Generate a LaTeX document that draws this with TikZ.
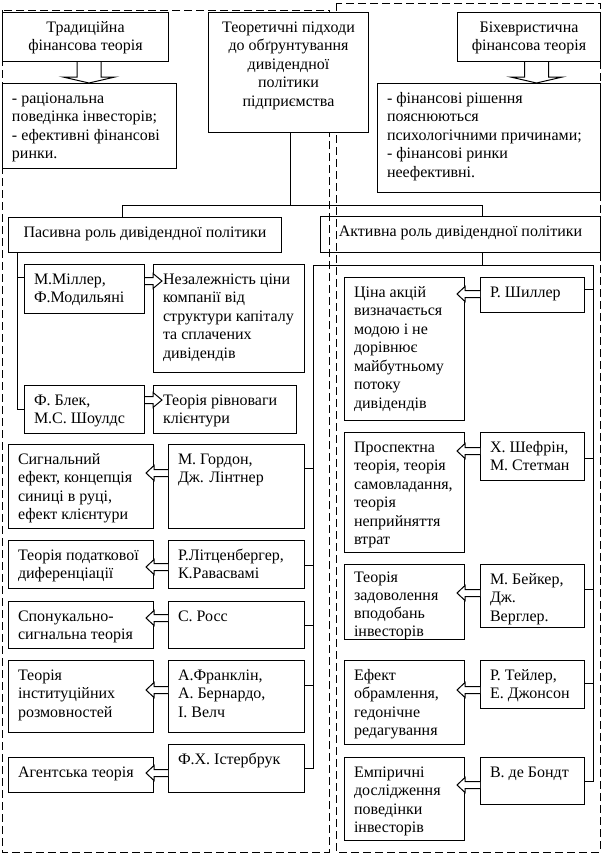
\documentclass[tikz,border=0pt]{standalone}
\usepackage{fontspec}
\setmainfont{Liberation Serif}
\usetikzlibrary{calc}
\newcommand\fb{19.5pt}
\newcommand\bxt[4]{\parbox[c][#2pt][t]{\dimexpr#1pt-19pt\relax}{#3\rule{0pt}{\fb}#4}}
\newcommand\larrow[3]{\coordinate (ay) at (0,#3);
 \filldraw[arr] let \p1=(#1.west |- ay), \p2=(#2.east |- ay) in (\x1,\y1+3.5pt) -- (\x2,\y1+3.5pt) -- (\x2,\y1+7.5pt) -- (\x2-8pt,\y1) -- (\x2,\y1-7.5pt) -- (\x2,\y1-3.5pt) -- (\x1,\y1-3.5pt);}
\newcommand\rarrow[3]{\coordinate (ay) at (0,#3);
 \filldraw[arr] let \p1=(#1.east |- ay), \p2=(#2.west |- ay) in (\x1,\y1+3.5pt) -- (\x2,\y1+3.5pt) -- (\x2,\y1+7.5pt) -- (\x2+9pt,\y1) -- (\x2,\y1-7.5pt) -- (\x2,\y1-3.5pt) -- (\x1,\y1-3.5pt);}
\newcommand\darrow[3]{\coordinate (ax) at (#3,0);
 \filldraw[arr] let \p1=(#1.south -| ax), \p2=(#2.north -| ax) in (\x1-12pt,\y1) -- (\x1-12pt,\y2+6pt) -- (\x1-26pt,\y2+6pt) -- (\x1,\y2) -- (\x1+26pt,\y2+6pt) -- (\x1+12pt,\y2+6pt) -- (\x1+12pt,\y1);}
\newcommand\branch[3]{\coordinate (by) at (0,#3); \draw[ln] (#1.east |- by) -- (#2 |- by);}
\begin{document}
\begin{tikzpicture}[x=1pt,y=-1pt,
  box/.style={draw, line width=1pt, fill=white, inner xsep=9.5pt, inner ysep=0pt, anchor=north west, font=\fontsize{16pt}{18.5pt}\selectfont},
  tbox/.style={box, fill=none},
  ln/.style={line width=1pt},
  arr/.style={line width=1pt, fill=white},
  dsh/.style={line width=1pt, dash pattern=on 8pt off 4pt}]
\useasboundingbox (0,0) rectangle (602,854);
\fill[white] (0,0) rectangle (602,854);
% dashed regions
\draw[dsh] (2,10) rectangle (329,852);
\draw[dsh] (336,3) rectangle (600,852);
% top
\node[box] (trad) at (2,12) {\bxt{166}{49}{\centering}{Традиційна\\фінансова теорія}};
\node[box] (tradl) at (2,83) {\bxt{174}{85}{\raggedright}{- раціональна\\поведінка інвесторів;\\- ефективні фінансові\\ринки.}};
\node[box] (theo) at (208,12) {\bxt{160}{120}{\centering}{Теоретичні підходи\\до обґрунтування\\дивідендної\\політики\\підприємства}};
\node[box] (beh) at (457,12) {\bxt{143}{49}{\centering}{Біхевристична\\фінансова теорія}};
\node[box] (behl) at (377,83) {\bxt{223}{109}{\raggedright}{- фінансові рішення\\пояснюються\\психологічними причинами;\\- фінансові ринки\\неефективні.}};
\node[box] (pas) at (8,217) {\bxt{273}{35}{\centering}{Пасивна роль дивідендної політики}};
\node[tbox] (act) at (320,216) {\bxt{280}{36}{\centering}{Активна роль дивідендної політики}};
% passive
\node[box] (miller) at (24,264) {\bxt{120}{49}{\raggedright}{М.Міллер,\\Ф.Модильяні}};
\node[box] (indep) at (153,264) {\bxt{151}{108}{\raggedright}{Незалежність ціни\\компанії від\\структури капіталу\\та сплачених\\дивідендів}};
\node[box] (blek) at (24,385) {\bxt{120}{48}{\raggedright}{Ф. Блек,\\М.С. Шоулдс}};
\node[box] (equil) at (153,385) {\bxt{143}{48}{\raggedright}{Теорія рівноваги\\клієнтури}};
% left column
\node[box] (signal) at (8,444) {\bxt{145}{84}{\raggedright}{Сигнальний\\ефект, концепція\\синиці в руці,\\ефект клієнтури}};
\node[box] (gordon) at (168,444) {\bxt{136}{84}{\raggedright}{М. Гордон,\\Дж. Лінтнер}};
\node[box] (tax) at (8,540) {\bxt{145}{48}{\raggedright}{Теорія податкової\\диференціації}};
\node[box] (litz) at (168,540) {\bxt{136}{48}{\raggedright}{Р.Літценбергер,\\К.Равасвамі}};
\node[box] (incent) at (8,601) {\bxt{145}{47}{\raggedright}{Спонукально-\\сигнальна теорія}};
\node[box] (ross) at (168,601) {\bxt{136}{47}{\raggedright}{С. Росс}};
\node[box] (inst) at (8,660) {\bxt{145}{72}{\raggedright}{Теорія\\інституційних\\розмовностей}};
\node[box] (frank) at (168,660) {\bxt{136}{72}{\raggedright}{А.Франклін,\\А. Бернардо,\\І. Велч}};
\node[box] (agent) at (8,757) {\bxt{145}{35}{\raggedright}{Агентська теорія}};
\node[box] (ister) at (168,744) {\bxt{136}{48}{\raggedright}{Ф.Х. Істербрук}};
% right column
\node[box] (price) at (344,277) {\bxt{120}{143}{\raggedright}{Ціна акцій\\визначається\\модою і не\\дорівнює\\майбутньому\\потоку\\дивідендів}};
\node[box] (shiller) at (480,277) {\bxt{104}{35}{\raggedright}{Р. Шиллер}};
\node[box] (prosp) at (344,432) {\bxt{120}{120}{\raggedright}{Проспектна\\теорія, теорія\\самовладання,\\теорія\\неприйняття\\втрат}};
\node[box] (shefrin) at (480,432) {\bxt{104}{48}{\raggedright}{Х. Шефрін,\\М. Стетман}};
\node[box, font=\fontsize{16pt}{18pt}\selectfont] (satis) at (344,564) {\def\fb{17.5pt}\bxt{120}{75}{\raggedright}{Теорія\\задоволення\\вподобань\\інвесторів}};
\node[box] (baker) at (480,564) {\bxt{104}{63}{\raggedright}{М. Бейкер,\\Дж.\\Верглер.}};
\node[box] (frame) at (344,660) {\bxt{120}{84}{\raggedright}{Ефект\\обрамлення,\\гедонічне\\редагування}};
\node[box] (tayler) at (480,660) {\bxt{104}{48}{\raggedright}{Р. Тейлер,\\Е. Джонсон}};
\node[box] (empir) at (344,757) {\bxt{120}{83}{\raggedright}{Емпіричні\\дослідження\\поведінки\\інвесторів}};
\node[box] (bondt) at (480,757) {\bxt{104}{47}{\raggedright}{В. де Бондт}};
% connectors
\coordinate (tj) at (290,205); \coordinate (pj) at (122,205); \coordinate (aj) at (482,205);
\draw[ln] (theo.south -| tj) -- (tj);
\draw[ln] (pas.north -| pj) -- (pj) -- (aj) -- (act.north -| aj);
\coordinate (pt) at (17,277);
\draw[ln] (pas.south -| pt) |- (blek.west);
\draw[ln] (pt) -- (pt -| miller.west);
\coordinate (aL) at (313,265); \coordinate (aR) at (593,265);
\draw[ln] (act.south -| aj) -- (aj |- aL);
\draw[ln] (aL) -- (aR);
\draw[ln] (aL) |- (ister.east);
\draw[ln] (aR) |- (bondt.east);
\branch{gordon}{aL}{468}
\branch{litz}{aL}{565}
\branch{ross}{aL}{625}
\branch{frank}{aL}{685}
\branch{shiller}{aR}{289}
\branch{shefrin}{aR}{458}
\branch{baker}{aR}{589}
\branch{tayler}{aR}{683}
% block arrows
\darrow{trad}{tradl}{89}
\darrow{beh}{behl}{536.5}
\rarrow{miller}{indep}{281}
\rarrow{blek}{equil}{400}
\larrow{gordon}{signal}{473}
\larrow{litz}{tax}{567}
\larrow{ross}{incent}{618}
\larrow{frank}{inst}{690}
\larrow{ister}{agent}{773}
\larrow{shiller}{price}{294}
\larrow{shefrin}{prosp}{451}
\larrow{baker}{satis}{593}
\larrow{tayler}{frame}{690}
\larrow{bondt}{empir}{785}
\end{tikzpicture}
\end{document}
